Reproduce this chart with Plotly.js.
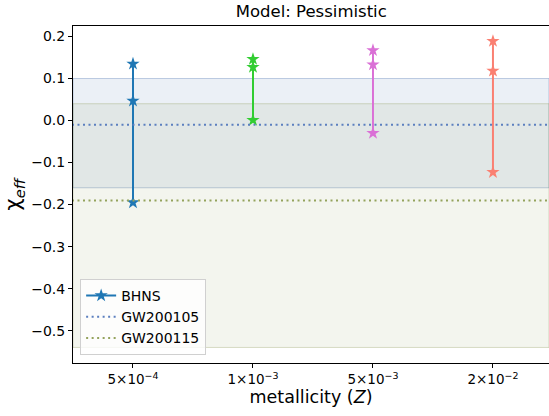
<!DOCTYPE html>
<html><head><meta charset="utf-8">
<script src="https://cdn.plot.ly/plotly-3.0.1.min.js"></script>
<style>html,body{margin:0;padding:0;background:#fff}</style>
</head><body><div id="chart" style="width:549px;height:416px"></div>
<script>
// Data
const categories = ["5×10<sup>−4</sup>", "1×10<sup>−3</sup>", "5×10<sup>−3</sup>", "2×10<sup>−2</sup>"];
const bhnsValues = [
  [0.135, 0.047, -0.195],
  [0.146, 0.127, 0.001],
  [0.167, 0.133, -0.030],
  [0.189, 0.118, -0.123]
];
const seriesColors = ["#1f77b4", "#32cd32", "#da70d6", "#fa8072"];
const gwNames = ["GW200105", "GW200115"];
const gwMedian = [-0.01, -0.19];
const gwLow = [-0.16, -0.54];
const gwHigh = [0.10, 0.04];
const gwColors = ["76,114,176", "150,160,100"];
const gwLineColors = ["#5b7fbf", "#94a35c"];

const traces = [];
bhnsValues.forEach((vals, i) => {
  traces.push({
    x: vals.map(() => i), y: vals, type: "scatter", mode: "lines+markers",
    name: "BHNS", showlegend: i === 0,
    line: {color: seriesColors[i], width: 2},
    marker: {symbol: "star", size: 10, color: seriesColors[i]}
  });
});
gwNames.forEach((n, k) => {
  traces.push({
    x: [-0.6, 3.6], y: [gwMedian[k], gwMedian[k]], type: "scatter", mode: "lines",
    name: n, line: {color: gwLineColors[k], width: 2, dash: "2px,3.5px"}
  });
});

const shapes = [];
gwNames.forEach((n, k) => {
  shapes.push({type: "rect", xref: "paper", yref: "y", x0: 0, x1: 1,
    y0: gwLow[k], y1: gwHigh[k], layer: "below",
    fillcolor: "rgba(" + gwColors[k] + ",0.11)",
    line: {color: "rgba(" + gwColors[k] + ",0.35)", width: 1}});
});

const layout = {
  width: 549, height: 416,
  margin: {l: 73, r: 0, t: 26, b: 53},
  paper_bgcolor: "#fff", plot_bgcolor: "#fff",
  font: {family: "DejaVu Sans", size: 14, color: "#000"},
  title: {text: "Model: Pessimistic", font: {size: 16.5, color: "#000"}, x: 0.567, xanchor: "center", y: 0.988, yanchor: "top"},
  xaxis: {
    range: [-0.5, 3.467], tickmode: "array", tickvals: [0, 1, 2, 3], ticktext: categories,
    showgrid: false, zeroline: false, showline: true, linecolor: "#000", linewidth: 1, mirror: true,
    ticks: "outside", ticklen: 4, tickcolor: "#000", tickfont: {size: 13.5},
    title: {text: "metallicity (<i>Z</i>)", font: {size: 17.5}, standoff: 4}
  },
  yaxis: {
    range: [-0.577, 0.225], tickvals: [-0.5, -0.4, -0.3, -0.2, -0.1, 0, 0.1, 0.2], tickformat: ".1f",
    showgrid: false, zeroline: false, showline: true, linecolor: "#000", linewidth: 1,
    ticks: "outside", ticklen: 4, tickcolor: "#000", tickfont: {size: 14},
    title: {text: "χ<sub><i>eff</i></sub>", font: {size: 21}, standoff: 4}
  },
  shapes: shapes,
  showlegend: true,
  legend: {x: 0.015, y: 0.024, xanchor: "left", yanchor: "bottom",
    bgcolor: "rgba(255,255,255,0.8)", bordercolor: "#d0d0d0", borderwidth: 1,
    font: {size: 14}, tracegroupgap: 0, itemwidth: 30}
};
Plotly.newPlot("chart", traces, layout, {displayModeBar: false, staticPlot: true});
</script></body></html>
